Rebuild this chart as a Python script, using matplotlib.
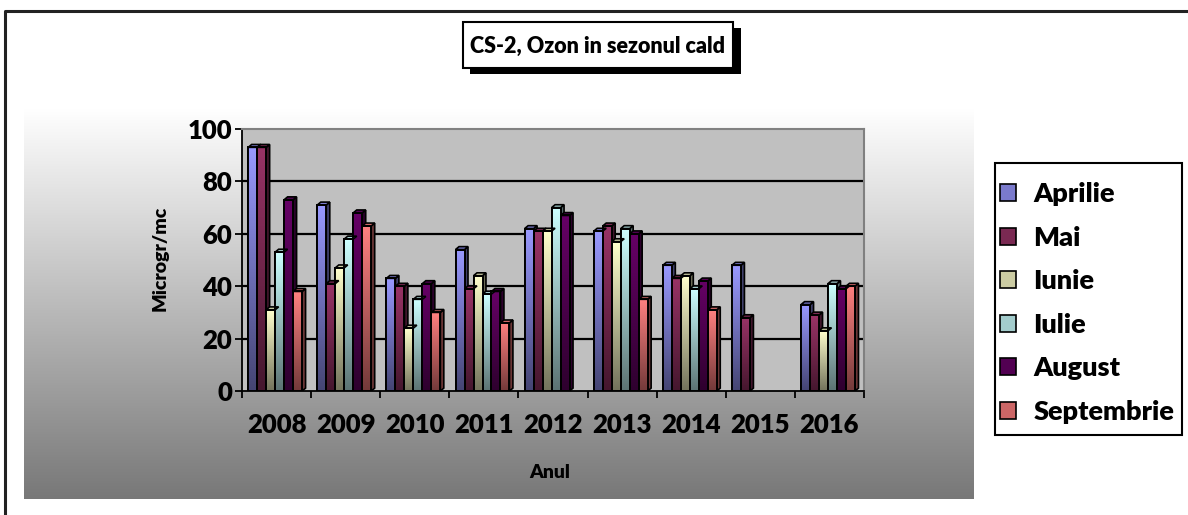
import matplotlib
matplotlib.use("Agg")
import matplotlib.pyplot as plt
import numpy as np
from matplotlib.patches import Rectangle, Polygon, Patch
from matplotlib.colors import to_rgb

FAM = 'Lato'
WT = 'heavy'
plt.rcParams['font.family'] = [FAM, 'DejaVu Sans']
plt.rcParams['font.weight'] = WT

years = ['2008', '2009', '2010', '2011', '2012', '2013', '2014', '2015', '2016']
months = ['Aprilie', 'Mai', 'Iunie', 'Iulie', 'August', 'Septembrie']
aprilie    = [93, 71, 43, 54, 62, 61, 48, 48, 33]
mai        = [93, 41, 40, 39, 61, 63, 43, 28, 29]
iunie      = [31, 47, 24, 44, 61, 57, 44, np.nan, 23]
iulie      = [53, 58, 35, 37, 70, 62, 39, np.nan, 41]
august     = [73, 68, 41, 38, 67, 60, 42, np.nan, 39]
septembrie = [38, 63, 30, 26, np.nan, 35, 31, np.nan, 40]
series = [aprilie, mai, iunie, iulie, august, septembrie]
colors = ['#9999FF', '#993366', '#FFFFCC', '#CCFFFF', '#660066', '#FF8080']

W, H = 1188, 515
fig = plt.figure(figsize=(W / 100, H / 100), dpi=100)
fig.patch.set_facecolor('white')

# decoration layer in pixel coordinates
bg = fig.add_axes([0, 0, 1, 1], zorder=-5)
bg.axis('off')
grad = np.linspace(1.0, 0.47, 256)[:, None]
bg.imshow(np.dstack([grad, grad, grad]), extent=[24, 974, 499, 108], aspect='auto',
          interpolation='bilinear', zorder=0)
bg.plot([5, 5, W + 5], [H + 5, 11, 11], color='#222222', lw=2.2, zorder=1)
bg.add_patch(Rectangle((470, 28), 271, 46, facecolor='black', edgecolor='none', zorder=2))
bg.add_patch(Rectangle((463, 22), 270, 46, facecolor='white', edgecolor='black', lw=1.5, zorder=3))
bg.text(598, 46, 'CS-2, Ozon in sezonul cald', ha='center', va='center', fontsize=15.5,
        fontweight=WT, zorder=4)
bg.add_patch(Rectangle((995, 163), 187, 272, facecolor='white', edgecolor='black', lw=1.5, zorder=3))
bg.set_xlim(0, W)
bg.set_ylim(H, 0)

ax = fig.add_axes([242 / W, 1 - 391 / H, (864 - 242) / W, (391 - 129) / H])
ax.set_facecolor('#C0C0C0')
n = len(years)
x = np.arange(n)
bw = 0.13
dx = 0.05
dy = 1.1
shift = -0.02

def shade(c, f):
    r, g, b = to_rgb(c)
    return (r * f, g * f, b * f)

for j, (vals, col) in enumerate(zip(series, colors)):
    offs = x + shift + (j - 2.5) * bw
    vals_arr = np.array(vals, dtype=float)
    bars = ax.bar(offs, np.nan_to_num(vals_arr), width=bw, color=col, edgecolor='black',
                  linewidth=1.3, zorder=3)
    top = np.array(to_rgb(col))
    bot = top * 0.45
    t = np.linspace(0, 1, 128)[:, None]
    img = (top[None, :] * (1 - t) + bot[None, :] * t)[:, None, :]
    for b, v in zip(bars, vals_arr):
        if np.isnan(v):
            b.set_visible(False)
            continue
        x0 = b.get_x()
        x1 = x0 + b.get_width()
        ax.imshow(img, extent=[x0, x1, 0, v], aspect='auto', interpolation='bilinear',
                  zorder=3.1)
        ax.add_patch(Rectangle((x0, 0), x1 - x0, v, facecolor='none', edgecolor='black',
                               lw=1.4, zorder=3.3))
        side = Polygon([(x1, 0), (x1 + dx, dy), (x1 + dx, v + dy), (x1, v)], closed=True,
                       facecolor=shade(col, 0.42), edgecolor='black', lw=1.2, zorder=3.0)
        topf = Polygon([(x0, v), (x0 + dx, v + dy), (x1 + dx, v + dy), (x1, v)], closed=True,
                       facecolor=shade(col, 0.8), edgecolor='black', lw=1.2, zorder=3.2)
        ax.add_patch(side)
        ax.add_patch(topf)

ax.set_xlim(-0.5, n - 0.5)
ax.set_ylim(0, 100)

for gv in [20, 40, 60, 80]:
    ax.axhline(gv, color='black', lw=1.6, zorder=1)

for s in ['top', 'right']:
    ax.spines[s].set_color('#808080')
    ax.spines[s].set_linewidth(1.5)
ax.spines['left'].set_color('black')
ax.spines['left'].set_linewidth(1.3)
ax.spines['bottom'].set_color('black')
ax.spines['bottom'].set_linewidth(1.3)

ax.set_yticks([0, 20, 40, 60, 80, 100])
ax.set_yticklabels(['0', '20', '40', '60', '80', '100'], fontsize=18.5, fontweight=WT)
ax.set_xticks(np.arange(-0.5, n, 1.0))
ax.set_xticklabels([])
ax.set_xticks(x, minor=True)
ax.set_xticklabels(years, minor=True, fontsize=18.5, fontweight=WT)
ax.tick_params(axis='x', which='minor', length=0, pad=16)
ax.tick_params(axis='x', which='major', length=5, width=1.3, direction='out')
ax.tick_params(axis='y', length=5, width=1.3, direction='out', pad=2)

fig.text(550 / W, 1 - 473 / H, 'Anul', ha='center', va='center', fontsize=14, fontweight=WT)
fig.text(160 / W, 1 - 258 / H, 'Microgr/mc', ha='center', va='center', fontsize=14,
         fontweight=WT, rotation=90)

handles = [Patch(facecolor=shade(c, 0.8), edgecolor='black', lw=1.2) for c in colors]
leg = fig.legend(handles, months, loc='center left', bbox_to_anchor=(997 / W, 1 - 303 / H),
                 frameon=False,
                 prop={'family': FAM, 'weight': WT, 'size': 19.5},
                 handlelength=0.6, handleheight=0.6, handletextpad=0.65,
                 labelspacing=0.72, borderpad=0.1, borderaxespad=0)

fig.savefig('out.png', dpi=100, facecolor='white')
